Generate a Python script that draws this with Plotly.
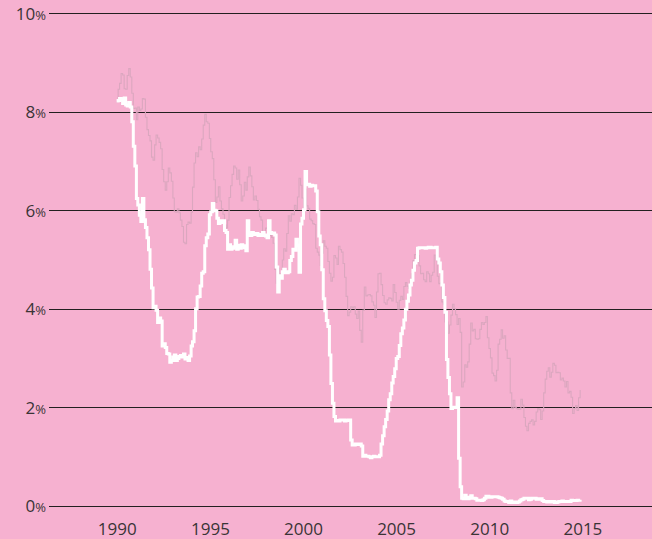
import pandas as pd
import plotly.graph_objects as go

# Monthly observations, Jan 1990 - Jun 2015
dates = pd.date_range("1990-01-01", "2015-06-01", freq="MS")

policy_rate = [
    8.23, 8.24, 8.28, 8.26, 8.18, 8.29, 8.15, 8.13, 8.20, 8.11, 7.81, 7.31,  # 1990
    6.91, 6.25, 6.12, 5.91, 5.78, 6.25, 5.82, 5.66, 5.45, 5.21, 4.81, 4.43,  # 1991
    4.03, 4.06, 3.98, 3.73, 3.82, 3.76, 3.25, 3.30, 3.22, 3.10, 3.09, 2.92,  # 1992
    2.96, 3.03, 3.07, 2.96, 3.00, 3.04, 3.06, 3.03, 3.09, 2.99, 3.02, 2.96,  # 1993
    3.05, 3.25, 3.34, 3.56, 4.01, 4.25, 4.26, 4.47, 4.73, 4.76, 5.29, 5.45,  # 1994
    5.53, 5.92, 5.98, 6.15, 6.01, 6.00, 5.85, 5.74, 5.80, 5.76, 5.80, 5.60,  # 1995
    5.56, 5.22, 5.31, 5.22, 5.24, 5.27, 5.40, 5.22, 5.30, 5.24, 5.31, 5.29,  # 1996
    5.25, 5.19, 5.80, 5.51, 5.50, 5.56, 5.52, 5.54, 5.54, 5.50, 5.52, 5.50,  # 1997
    5.56, 5.51, 5.49, 5.45, 5.80, 5.56, 5.54, 5.55, 5.51, 4.86, 4.35, 4.68,  # 1998
    4.63, 4.76, 4.81, 4.74, 4.74, 4.76, 4.99, 5.07, 5.22, 5.20, 5.42, 5.30,  # 1999
    4.75, 5.73, 5.85, 6.02, 6.80, 6.53, 6.54, 6.50, 6.52, 6.51, 6.51, 6.40,  # 2000
    5.98, 5.49, 5.31, 4.80, 4.21, 3.97, 3.77, 3.65, 3.07, 2.49, 2.09, 1.82,  # 2001
    1.73, 1.74, 1.73, 1.75, 1.75, 1.75, 1.73, 1.74, 1.75, 1.75, 1.34, 1.24,  # 2002
    1.24, 1.26, 1.25, 1.26, 1.26, 1.22, 1.01, 1.03, 1.01, 1.01, 1.00, 0.98,  # 2003
    1.00, 1.01, 1.00, 1.00, 1.00, 1.03, 1.26, 1.43, 1.61, 1.76, 1.93, 2.16,  # 2004
    2.28, 2.50, 2.63, 2.79, 3.00, 3.04, 3.26, 3.50, 3.62, 3.78, 4.00, 4.16,  # 2005
    4.29, 4.49, 4.59, 4.79, 4.94, 4.99, 5.24, 5.25, 5.25, 5.25, 5.25, 5.24,  # 2006
    5.25, 5.26, 5.26, 5.25, 5.25, 5.25, 5.26, 5.02, 4.94, 4.76, 4.49, 4.24,  # 2007
    3.94, 2.98, 2.61, 2.28, 1.98, 2.00, 2.01, 2.00, 2.20, 0.97, 0.39, 0.16,  # 2008
    0.15, 0.22, 0.18, 0.15, 0.18, 0.21, 0.16, 0.16, 0.15, 0.12, 0.12, 0.12,  # 2009
    0.11, 0.13, 0.16, 0.20, 0.20, 0.18, 0.18, 0.19, 0.19, 0.19, 0.19, 0.18,  # 2010
    0.17, 0.16, 0.14, 0.10, 0.09, 0.09, 0.07, 0.10, 0.08, 0.07, 0.08, 0.07,  # 2011
    0.08, 0.10, 0.13, 0.14, 0.16, 0.16, 0.16, 0.13, 0.14, 0.16, 0.16, 0.16,  # 2012
    0.14, 0.15, 0.14, 0.15, 0.11, 0.09, 0.09, 0.08, 0.08, 0.09, 0.08, 0.09,  # 2013
    0.07, 0.07, 0.08, 0.09, 0.09, 0.10, 0.09, 0.09, 0.09, 0.09, 0.09, 0.12,  # 2014
    0.11, 0.11, 0.11, 0.12, 0.12, 0.13,                                      # 2015
]

bond_yield = [
    8.21, 8.47, 8.59, 8.79, 8.76, 8.48, 8.47, 8.75, 8.89, 8.72, 8.39, 8.08,  # 1990
    8.09, 7.85, 8.11, 8.04, 8.07, 8.28, 8.27, 7.90, 7.65, 7.53, 7.42, 7.09,  # 1991
    7.03, 7.34, 7.54, 7.48, 7.39, 7.26, 6.84, 6.59, 6.42, 6.59, 6.87, 6.77,  # 1992
    6.60, 6.26, 5.98, 5.97, 6.04, 5.96, 5.81, 5.68, 5.36, 5.33, 5.72, 5.77,  # 1993
    5.75, 5.97, 6.48, 6.97, 7.18, 7.10, 7.30, 7.24, 7.46, 7.74, 7.96, 7.81,  # 1994
    7.78, 7.47, 7.20, 7.06, 6.63, 6.17, 6.28, 6.49, 6.20, 6.04, 5.93, 5.71,  # 1995
    5.65, 5.81, 6.27, 6.51, 6.74, 6.91, 6.87, 6.64, 6.83, 6.53, 6.20, 6.30,  # 1996
    6.58, 6.42, 6.69, 6.89, 6.71, 6.49, 6.22, 6.30, 6.21, 6.03, 5.88, 5.81,  # 1997
    5.54, 5.57, 5.65, 5.64, 5.65, 5.50, 5.46, 5.34, 4.81, 4.53, 4.83, 4.65,  # 1998
    4.72, 5.00, 5.23, 5.18, 5.54, 5.90, 5.79, 5.94, 5.92, 6.11, 6.03, 6.28,  # 1999
    6.66, 6.52, 6.26, 5.99, 6.44, 6.10, 6.05, 5.83, 5.80, 5.74, 5.72, 5.24,  # 2000
    5.16, 5.10, 4.89, 5.14, 5.39, 5.28, 5.24, 4.97, 4.73, 4.57, 4.65, 5.09,  # 2001
    5.04, 4.91, 5.28, 5.21, 5.16, 4.93, 4.65, 4.26, 3.87, 3.94, 4.05, 4.03,  # 2002
    4.05, 3.90, 3.81, 3.96, 3.57, 3.33, 3.98, 4.45, 4.27, 4.29, 4.30, 4.27,  # 2003
    4.15, 4.08, 3.83, 4.35, 4.72, 4.73, 4.50, 4.28, 4.13, 4.10, 4.19, 4.23,  # 2004
    4.22, 4.17, 4.50, 4.34, 4.14, 4.00, 4.18, 4.26, 4.20, 4.46, 4.54, 4.47,  # 2005
    4.42, 4.57, 4.72, 4.99, 5.11, 5.11, 5.09, 4.88, 4.72, 4.73, 4.60, 4.56,  # 2006
    4.76, 4.72, 4.56, 4.69, 4.75, 5.10, 5.00, 4.67, 4.52, 4.53, 4.15, 4.10,  # 2007
    3.74, 3.74, 3.51, 3.68, 3.88, 4.10, 4.01, 3.89, 3.69, 3.81, 3.53, 2.42,  # 2008
    2.52, 2.87, 2.82, 2.93, 3.29, 3.72, 3.56, 3.59, 3.40, 3.39, 3.40, 3.59,  # 2009
    3.73, 3.69, 3.73, 3.85, 3.42, 3.20, 3.01, 2.70, 2.65, 2.54, 2.76, 3.29,  # 2010
    3.39, 3.58, 3.41, 3.46, 3.17, 3.00, 3.00, 2.30, 1.98, 2.15, 2.01, 1.98,  # 2011
    1.97, 1.97, 2.17, 2.05, 1.80, 1.62, 1.53, 1.68, 1.72, 1.75, 1.65, 1.72,  # 2012
    1.91, 1.98, 1.96, 1.76, 1.93, 2.30, 2.58, 2.74, 2.81, 2.62, 2.72, 2.90,  # 2013
    2.86, 2.71, 2.72, 2.71, 2.56, 2.60, 2.54, 2.42, 2.53, 2.30, 2.33, 2.21,  # 2014
    1.88, 1.98, 2.04, 1.94, 2.20, 2.36,                                      # 2015
]

y_ticks = [0, 2, 4, 6, 8, 10]
x_tick_labels = ["1990", "1995", "2000", "2005", "2010", "2015"]
x_tick_dates = ["1990-01-12", "1995-02-24", "2000-04-01",
                "2005-05-08", "2010-06-17", "2015-07-26"]

PINK = "#f6b1d0"
TEXT = "#3a3436"
FONT = "Open Sans"

fig = go.Figure()
fig.add_trace(go.Scatter(
    x=dates, y=bond_yield, mode="lines", line_shape="hv",
    line=dict(color="#dba7bf", width=1.1), hoverinfo="skip", showlegend=False,
))
fig.add_trace(go.Scatter(
    x=dates, y=policy_rate, mode="lines", line_shape="hv",
    line=dict(color="#ffffff", width=3), hoverinfo="skip", showlegend=False,
))

fig.update_layout(
    width=652, height=539,
    margin=dict(l=49, r=0, t=12, b=31),
    paper_bgcolor=PINK, plot_bgcolor=PINK,
    font=dict(family=FONT, size=17, color=TEXT),
    xaxis=dict(
        type="date", range=["1986-04-18", "2019-05-10"],
        tickvals=x_tick_dates, ticktext=x_tick_labels,
        showgrid=False, zeroline=False, showline=False, ticks="",
        ticklabelstandoff=9, automargin=False,
        tickfont=dict(family=FONT, size=17, color=TEXT),
    ),
    yaxis=dict(
        range=[-0.04, 10.04], tickvals=y_ticks,
        ticktext=[f"{v}<span style='font-size:13px'>%</span>" for v in y_ticks],
        showgrid=True, gridcolor="#231f20", gridwidth=1,
        zeroline=False, showline=False, ticks="",
        ticklabelstandoff=2, automargin=False,
        tickfont=dict(family=FONT, size=17, color=TEXT),
    ),
)

fig.write_html(
    "out.html",
    config={"displayModeBar": False},
    post_script="document.body.style.margin='0';document.body.style.overflow='hidden';",
)
